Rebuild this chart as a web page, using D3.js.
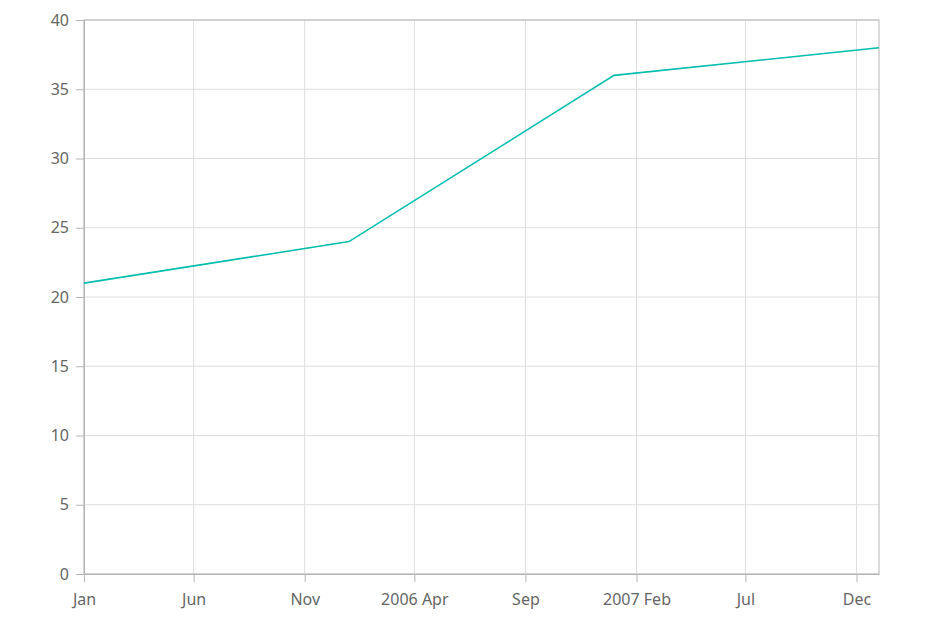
<!DOCTYPE html>
<html>
<head>
<meta charset="utf-8">
<script src="https://cdn.jsdelivr.net/npm/d3@7"></script>
<style>
  body { margin: 0; background: #fff; }
  svg { display: block; }
  .tick text { font-family: "Noto Sans", "Open Sans", sans-serif; font-size: 16px; fill: #666; }
</style>
</head>
<body>
<div id="chart"></div>
<script>
const dates = ["2005-01-01", "2006-01-01", "2007-01-01", "2008-01-01"];
const values = [21, 24, 36, 38];
const yTicks = [0, 5, 10, 15, 20, 25, 30, 35, 40];

const width = 933, height = 631;
const margin = { top: 20, right: 54, bottom: 57, left: 84 };

const parse = d3.timeParse("%Y-%m-%d");
const data = dates.map((d, i) => ({ date: parse(d), value: values[i] }));

const svg = d3.select("#chart").append("svg")
  .attr("width", width)
  .attr("height", height);

const x = d3.scaleTime()
  .domain(d3.extent(data, d => d.date))
  .range([margin.left, width - margin.right]);

const y = d3.scaleLinear()
  .domain([0, 40])
  .range([height - margin.bottom, margin.top]);

// one tick every 5 months, counted from the first date
const xTicks = d3.timeMonth.range(parse("2005-01-01"), parse("2008-01-01"), 5);

const fmt = (d, i) => {
  if (i > 0 && xTicks[i - 1].getFullYear() !== d.getFullYear())
    return d3.timeFormat("%Y %b")(d);
  return d3.timeFormat("%b")(d);
};

// grid
svg.append("g")
  .selectAll("line")
  .data(yTicks)
  .join("line")
  .attr("x1", margin.left).attr("x2", width - margin.right)
  .attr("y1", d => y(d)).attr("y2", d => y(d))
  .attr("stroke", "#dedede");

svg.append("g")
  .selectAll("line")
  .data(xTicks)
  .join("line")
  .attr("x1", d => x(d)).attr("x2", d => x(d))
  .attr("y1", margin.top).attr("y2", height - margin.bottom)
  .attr("stroke", "#dedede");

// border
svg.append("rect")
  .attr("x", margin.left).attr("y", margin.top)
  .attr("width", width - margin.left - margin.right)
  .attr("height", height - margin.top - margin.bottom)
  .attr("fill", "none")
  .attr("stroke", "#b5b5b5");

// y axis
const yAxis = svg.append("g")
  .attr("transform", `translate(${margin.left},0)`)
  .call(d3.axisLeft(y).tickValues(yTicks).tickSize(8).tickSizeOuter(0).tickPadding(7));
yAxis.select(".domain").attr("stroke", "#b5b5b5");
yAxis.selectAll(".tick line").attr("stroke", "#b5b5b5");

// x axis
const xAxis = svg.append("g")
  .attr("transform", `translate(0,${height - margin.bottom})`)
  .call(d3.axisBottom(x).tickValues(xTicks).tickFormat(fmt).tickSize(8).tickSizeOuter(0).tickPadding(12));
xAxis.select(".domain").attr("stroke", "#b5b5b5");
xAxis.selectAll(".tick line").attr("stroke", "#b5b5b5");

// line
svg.append("path")
  .datum(data)
  .attr("fill", "none")
  .attr("stroke", "#00bdae")
  .attr("stroke-width", 1.6)
  .attr("d", d3.line().x(d => x(d.date)).y(d => y(d.value)));
</script>
</body>
</html>
